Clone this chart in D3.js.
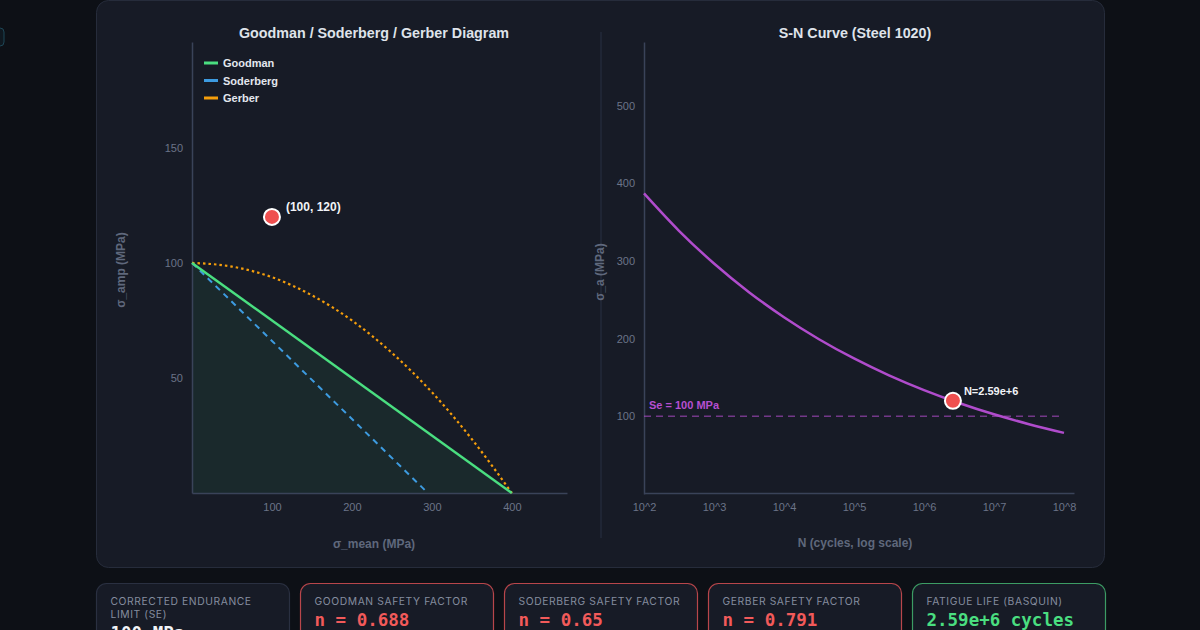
<!DOCTYPE html>
<html>
<head>
<meta charset="utf-8">
<script src="https://cdn.jsdelivr.net/npm/d3@7"></script>
<style>
  html, body { margin: 0; padding: 0; background: #0d1016; }
  svg { display: block; }
  .tick-label { fill: #6b7488; font: 11px "Liberation Sans", Arial, sans-serif; }
  .axis-title { fill: #5f687c; font: bold 12px "Liberation Sans", Arial, sans-serif; }
  .chart-title { fill: #dfe3ea; font: bold 14.3px "Liberation Sans", Arial, sans-serif; }
</style>
</head>
<body>
<div id="chart"></div>
<script>
// --- data ---
const goodmanMean = [0, 400];
const goodmanAmp = [100, 0];
const soderbergMean = [0, 295];
const soderbergAmp = [100, 0];
const gerberMean = [0, 50, 100, 150, 200, 250, 300, 350, 400];
const gerberAmp = [100, 98.4, 93.8, 85.9, 75, 60.9, 43.8, 23.4, 0];
const stressPoint = [100, 120];
const meanTicks = [100, 200, 300, 400];
const ampTicks = [50, 100, 150];
const legendNames = ["Goodman", "Soderberg", "Gerber"];

const snCycles = [1e2, 3.16e2, 1e3, 3.16e3, 1e4, 3.16e4, 1e5, 3.16e5, 1e6, 3.16e6, 1e7, 3.16e7, 1e8];
const snStress = [387, 338.9, 296.8, 259.9, 227.6, 199.3, 174.5, 152.8, 133.8, 117.2, 102.6, 89.9, 78.7];
const enduranceLimit = 100;
const lifePoint = [2.59e6, 120];
const cycleTicks = [1e2, 1e3, 1e4, 1e5, 1e6, 1e7, 1e8];
const cycleTickLabels = ["10^2", "10^3", "10^4", "10^5", "10^6", "10^7", "10^8"];
const stressTicks = [100, 200, 300, 400, 500];

const cardLabels = [["CORRECTED ENDURANCE", "LIMIT (SE)"], ["GOODMAN SAFETY FACTOR"], ["SODERBERG SAFETY FACTOR"], ["GERBER SAFETY FACTOR"], ["FATIGUE LIFE (BASQUIN)"]];
const cardValues = ["100 MPa", "n = 0.688", "n = 0.65", "n = 0.791", "2.59e+6 cycles"];
const cardStatus = ["neutral", "bad", "bad", "bad", "good"];

// --- colours ---
const colors = { goodman: "#4ade80", soderberg: "#3d9be0", gerber: "#f59e0b", sn: "#b04ccc", point: "#ef4f4f" };
const legendColors = [colors.goodman, colors.soderberg, colors.gerber];

const svg = d3.select("#chart").append("svg")
  .attr("width", 1200)
  .attr("height", 630);

// small element peeking in from the left edge
svg.append("rect")
  .attr("x", -20).attr("y", 28).attr("width", 24).attr("height", 18).attr("rx", 4)
  .attr("fill", "#0f1820").attr("stroke", "#1d4656");

// main panel
svg.append("rect")
  .attr("x", 96.5).attr("y", 0.5).attr("width", 1008).attr("height", 567).attr("rx", 12)
  .attr("fill", "#171b26").attr("stroke", "#262c3b");

// divider between charts
svg.append("line")
  .attr("x1", 601).attr("x2", 601).attr("y1", 32).attr("y2", 538)
  .attr("stroke", "#283042").attr("stroke-width", 1);

function marker(g, x, y) {
  g.append("circle")
    .attr("cx", x).attr("cy", y).attr("r", 8)
    .attr("fill", colors.point).attr("stroke", "#ffffff").attr("stroke-width", 2);
}

// ---------- left: Goodman / Soderberg / Gerber ----------
const left = svg.append("g");
const xL = d3.scaleLinear().domain([0, 469]).range([192, 567]);
const yL = d3.scaleLinear().domain([0, 196]).range([493, 42]);

left.append("text").attr("class", "chart-title")
  .attr("x", 374).attr("y", 38).attr("text-anchor", "middle")
  .text("Goodman / Soderberg / Gerber Diagram");

// safe zone under Goodman
const safeArea = d3.area()
  .x((d, i) => xL(goodmanMean[i]))
  .y0(yL(0))
  .y1((d, i) => yL(goodmanAmp[i]));
left.append("path")
  .datum(goodmanMean)
  .attr("d", safeArea)
  .attr("fill", colors.goodman).attr("fill-opacity", 0.07);

// axes
const xAxisL = d3.axisBottom(xL).tickValues(meanTicks).tickSize(0).tickPadding(10);
const yAxisL = d3.axisLeft(yL).tickValues(ampTicks).tickSize(0).tickPadding(9);
const gxL = left.append("g").attr("transform", `translate(0,${yL(0)})`).call(xAxisL);
const gyL = left.append("g").attr("transform", `translate(${xL(0)},0)`).call(yAxisL);
[gxL, gyL].forEach(g => {
  g.select(".domain").attr("stroke", "#3a4359").attr("stroke-width", 1.5);
  g.selectAll("text").attr("class", "tick-label").attr("fill", null).attr("font-size", null).attr("font-family", null);
});

left.append("text").attr("class", "axis-title")
  .attr("x", 374).attr("y", 548).attr("text-anchor", "middle")
  .text("σ_mean (MPa)");
left.append("text").attr("class", "axis-title")
  .attr("transform", "translate(125,270) rotate(-90)").attr("text-anchor", "middle")
  .text("σ_amp (MPa)");

const lineL = d3.line();
function pts(xs, ys) { return xs.map((x, i) => [xL(x), yL(ys[i])]); }

left.append("path")
  .attr("d", lineL(pts(soderbergMean, soderbergAmp)))
  .attr("fill", "none").attr("stroke", colors.soderberg).attr("stroke-width", 2)
  .attr("stroke-dasharray", "6 5");
left.append("path")
  .attr("d", d3.line().curve(d3.curveMonotoneX)(pts(gerberMean, gerberAmp)))
  .attr("fill", "none").attr("stroke", colors.gerber).attr("stroke-width", 2.2)
  .attr("stroke-dasharray", "2.5 3");
left.append("path")
  .attr("d", lineL(pts(goodmanMean, goodmanAmp)))
  .attr("fill", "none").attr("stroke", colors.goodman).attr("stroke-width", 2.5);

// legend
legendNames.forEach((name, i) => {
  const ly = 63 + i * 17.5;
  left.append("line")
    .attr("x1", 204).attr("x2", 218).attr("y1", ly).attr("y2", ly)
    .attr("stroke", legendColors[i]).attr("stroke-width", 3);
  left.append("text")
    .attr("x", 223).attr("y", ly + 4)
    .attr("fill", "#e3e7ee").attr("font-family", "Liberation Sans, Arial, sans-serif")
    .attr("font-size", 11).attr("font-weight", "bold")
    .text(name);
});

// operating point
marker(left, xL(stressPoint[0]), yL(stressPoint[1]));
left.append("text")
  .attr("x", xL(stressPoint[0]) + 14).attr("y", yL(stressPoint[1]) - 6)
  .attr("fill", "#f1f3f7").attr("font-family", "Liberation Sans, Arial, sans-serif")
  .attr("font-size", 12).attr("font-weight", "bold")
  .text(`(${stressPoint[0]}, ${stressPoint[1]})`);

// ---------- right: S-N curve ----------
const right = svg.append("g");
const xR = d3.scaleLog().domain([1e2, Math.pow(10, 8 + 10 / 70)]).range([644, 1074]);
const yR = d3.scaleLinear().domain([0, 582]).range([494, 42]);

right.append("text").attr("class", "chart-title")
  .attr("x", 855).attr("y", 38).attr("text-anchor", "middle")
  .text("S-N Curve (Steel 1020)");

const xAxisR = d3.axisBottom(xR).tickValues(cycleTicks)
  .tickFormat((d, i) => cycleTickLabels[i]).tickSize(0).tickPadding(10);
const yAxisR = d3.axisLeft(yR).tickValues(stressTicks).tickSize(0).tickPadding(9);
const gxR = right.append("g").attr("transform", "translate(0,493)").call(xAxisR);
const gyR = right.append("g").attr("transform", "translate(644,0)").call(yAxisR);
[gxR, gyR].forEach(g => {
  g.select(".domain").attr("stroke", "#3a4359").attr("stroke-width", 1.5);
  g.selectAll("text").attr("class", "tick-label").attr("fill", null).attr("font-size", null).attr("font-family", null);
});

right.append("text").attr("class", "axis-title")
  .attr("x", 855).attr("y", 547).attr("text-anchor", "middle")
  .text("N (cycles, log scale)");
right.append("text").attr("class", "axis-title")
  .attr("transform", "translate(604,272) rotate(-90)").attr("text-anchor", "middle")
  .text("σ_a (MPa)");

// endurance limit
right.append("line")
  .attr("x1", xR(1e2)).attr("x2", 1060)
  .attr("y1", yR(enduranceLimit)).attr("y2", yR(enduranceLimit))
  .attr("stroke", colors.sn).attr("stroke-opacity", 0.6).attr("stroke-width", 1.5)
  .attr("stroke-dasharray", "7 5");
right.append("text")
  .attr("x", 649).attr("y", yR(enduranceLimit) - 7)
  .attr("fill", "#b64fd0").attr("font-family", "Liberation Sans, Arial, sans-serif")
  .attr("font-size", 11).attr("font-weight", "bold")
  .text(`Se = ${enduranceLimit} MPa`);

const snLine = d3.line().curve(d3.curveMonotoneX)
  .x((d, i) => xR(snCycles[i]))
  .y((d, i) => yR(snStress[i]));
right.append("path")
  .datum(snCycles)
  .attr("d", snLine)
  .attr("fill", "none").attr("stroke", colors.sn).attr("stroke-width", 2.5);

marker(right, xR(lifePoint[0]), yR(lifePoint[1]));
right.append("text")
  .attr("x", xR(lifePoint[0]) + 11).attr("y", yR(lifePoint[1]) - 6)
  .attr("fill", "#f1f3f7").attr("font-family", "Liberation Sans, Arial, sans-serif")
  .attr("font-size", 11).attr("font-weight", "bold")
  .text("N=2.59e+6");

// ---------- result cards ----------
const cardBorder = { neutral: "#2a3041", bad: "#b8464b", good: "#3c9c64" };
const cardValueColor = { neutral: "#f1f3f7", bad: "#f25a5a", good: "#4ade80" };
const cardX = d3.scaleBand().domain(d3.range(cardLabels.length)).range([96, 1116]).paddingInner(0);

cardLabels.forEach((lines, i) => {
  const x0 = cardX(i) + 0.5;
  const g = svg.append("g").attr("transform", `translate(${x0},583.5)`);
  g.append("rect")
    .attr("width", 193).attr("height", 70).attr("rx", 10)
    .attr("fill", "#171b26").attr("stroke", cardBorder[cardStatus[i]]).attr("stroke-width", 1.2);
  lines.forEach((t, k) => {
    g.append("text")
      .attr("x", 14).attr("y", 21 + k * 13)
      .attr("fill", "#858d9f").attr("font-family", "Inter, 'Noto Sans', sans-serif")
      .attr("font-size", 10.3).attr("letter-spacing", 0.6)
      .text(t);
  });
  g.append("text")
    .attr("x", 14).attr("y", 21 + lines.length * 13 + 8)
    .attr("fill", cardValueColor[cardStatus[i]])
    .attr("font-family", "'DejaVu Sans Mono', monospace")
    .attr("font-size", 17.5).attr("font-weight", "bold")
    .text(cardValues[i]);
});
</script>
</body>
</html>
